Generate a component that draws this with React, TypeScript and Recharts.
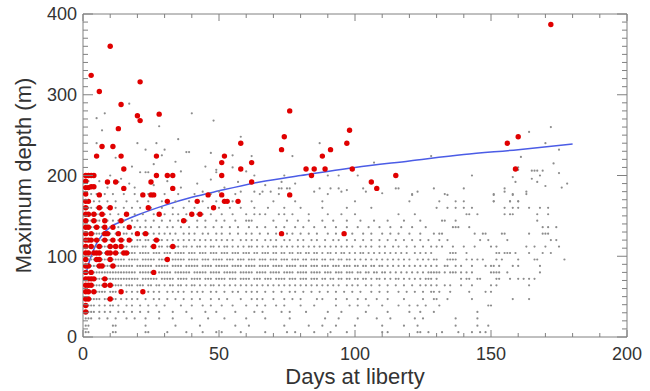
import React from 'react';
import { ComposedChart, Scatter, Line, XAxis, YAxis, ReferenceLine } from 'recharts';

// gray points: one row of recorded days per depth level
const rowDepths = [6, 14, 23, 31, 39, 47, 56, 64, 72, 80, 88, 96, 104, 112, 120, 128, 136, 144, 152, 160, 168, 177];
const rowDays = [
  [1, 2, 11, 12, 23, 24, 31, 38, 44, 49, 51, 58, 67, 75, 78, 85, 91, 97, 110, 112, 123, 124, 127, 132, 138, 143, 146, 148],
  [1, 2, 11, 12, 23, 34, 43, 56, 61, 74, 83, 88, 93, 100, 110, 118, 123, 137, 145, 149],
  [1, 2, 3, 6, 9, 12, 16, 19, 23, 28, 33, 40, 46, 52, 60, 67, 76, 89, 94, 101, 108, 113, 122, 125, 137, 145],
  [1, 2, 3, 4, 6, 8, 10, 13, 15, 18, 21, 24, 28, 33, 38, 45, 49, 56, 63, 66, 73, 76, 82, 90, 95, 104, 112, 120, 124, 129, 145],
  [1, 2, 3, 4, 6, 8, 10, 11, 13, 16, 18, 21, 24, 27, 30, 36, 40, 44, 47, 51, 55, 60, 64, 67, 71, 74, 80, 85, 93, 98, 101, 105, 110, 116, 120, 123, 126, 131, 149, 150],
  [1, 2, 3, 4, 5, 6, 8, 9, 11, 12, 14, 16, 18, 20, 23, 26, 28, 31, 34, 37, 40, 43, 47, 50, 53, 58, 62, 64, 66, 70, 74, 77, 80, 86, 88, 93, 97, 101, 104, 108, 112, 118, 125, 129, 130, 134, 143, 158, 164],
  [1, 2, 3, 4, 5, 6, 7, 8, 10, 11, 12, 14, 16, 18, 20, 22, 24, 26, 28, 31, 33, 35, 37, 40, 42, 44, 47, 49, 52, 55, 57, 60, 62, 64, 67, 70, 73, 76, 78, 81, 84, 87, 90, 93, 96, 99, 102, 106, 109, 112, 116, 119, 122, 125, 128, 129, 131, 135, 142, 148, 150],
  [1, 2, 3, 4, 5, 6, 7, 8, 9, 10, 11, 12, 13, 14, 16, 17, 18, 20, 21, 22, 24, 25, 27, 28, 30, 32, 33, 35, 36, 38, 40, 41, 43, 45, 47, 48, 50, 52, 54, 56, 58, 60, 62, 64, 66, 68, 70, 72, 74, 76, 78, 80, 82, 84, 86, 88, 90, 92, 94, 97, 99, 101, 104, 106, 109, 112, 115, 118, 121, 124, 126, 128, 130, 133, 135, 139, 143, 150, 152, 164],
  [1, 2, 3, 4, 5, 6, 7, 8, 9, 10, 11, 12, 13, 14, 15, 16, 17, 18, 19, 20, 22, 23, 24, 25, 26, 27, 29, 30, 31, 32, 33, 35, 36, 37, 38, 40, 41, 42, 43, 45, 46, 47, 49, 50, 51, 52, 54, 55, 56, 58, 59, 60, 61, 63, 64, 65, 67, 68, 69, 71, 72, 73, 74, 76, 77, 78, 80, 81, 82, 84, 85, 86, 88, 89, 91, 92, 94, 95, 97, 98, 100, 101, 103, 104, 106, 108, 109, 111, 113, 115, 116, 118, 120, 122, 124, 126, 127, 128, 130, 139, 141, 142, 145, 146, 152, 153, 157, 160, 162, 164, 166],
  [1, 2, 3, 4, 5, 6, 7, 8, 9, 10, 11, 12, 13, 14, 15, 16, 17, 18, 19, 21, 22, 23, 24, 25, 26, 28, 29, 30, 31, 32, 34, 35, 36, 37, 38, 39, 41, 42, 43, 44, 45, 47, 48, 49, 50, 52, 53, 54, 55, 56, 58, 59, 60, 61, 62, 64, 65, 66, 67, 69, 70, 71, 72, 74, 75, 76, 77, 79, 80, 81, 82, 84, 85, 86, 87, 89, 90, 91, 93, 94, 95, 97, 98, 99, 101, 102, 104, 105, 107, 108, 110, 111, 113, 115, 117, 119, 121, 123, 125, 127, 128, 129, 130, 131, 133, 135, 136, 137, 139, 141, 143, 150, 151, 152, 153, 156, 168],
  [1, 2, 3, 4, 5, 6, 7, 8, 9, 10, 11, 12, 13, 14, 15, 16, 17, 18, 20, 21, 22, 23, 24, 25, 27, 28, 29, 30, 31, 33, 34, 35, 36, 38, 39, 40, 41, 42, 44, 45, 46, 47, 49, 50, 51, 52, 53, 55, 56, 57, 58, 60, 61, 62, 63, 65, 66, 67, 68, 70, 71, 72, 73, 75, 76, 77, 78, 80, 81, 82, 84, 85, 86, 88, 89, 90, 92, 93, 94, 96, 97, 98, 100, 101, 103, 104, 106, 107, 109, 110, 112, 114, 116, 118, 120, 122, 124, 126, 128, 130, 133, 134, 137, 139, 143, 148, 150, 151, 153, 158, 160, 168],
  [1, 2, 3, 4, 5, 6, 7, 8, 9, 10, 11, 12, 13, 14, 15, 17, 18, 19, 20, 22, 23, 24, 25, 26, 28, 29, 30, 31, 33, 34, 35, 36, 37, 39, 40, 41, 42, 44, 45, 46, 48, 49, 50, 51, 53, 54, 55, 57, 58, 59, 61, 62, 63, 65, 66, 67, 69, 70, 71, 73, 74, 75, 77, 78, 79, 81, 82, 84, 85, 86, 88, 89, 91, 92, 94, 95, 97, 98, 100, 102, 104, 106, 108, 110, 112, 114, 116, 118, 120, 123, 125, 127, 129, 130, 134, 135, 136, 137, 141, 143, 145, 147, 152, 154, 160, 166, 167, 177],
  [1, 2, 3, 4, 5, 6, 7, 8, 9, 10, 11, 12, 13, 14, 16, 17, 18, 19, 21, 22, 23, 24, 26, 27, 28, 30, 31, 32, 34, 35, 36, 37, 39, 40, 41, 43, 44, 45, 47, 48, 49, 51, 52, 53, 55, 56, 57, 59, 60, 61, 63, 64, 66, 67, 68, 70, 71, 73, 74, 76, 77, 79, 80, 82, 83, 85, 86, 88, 90, 91, 93, 95, 96, 98, 100, 102, 103, 105, 107, 109, 111, 113, 115, 117, 119, 122, 124, 126, 128, 135, 136, 137, 141, 152, 153, 155, 156, 157, 159, 164, 169, 172],
  [1, 2, 3, 4, 5, 6, 7, 8, 9, 10, 11, 12, 14, 15, 16, 18, 19, 20, 22, 23, 25, 26, 28, 29, 31, 32, 34, 35, 37, 38, 40, 42, 43, 45, 47, 48, 50, 52, 53, 55, 57, 59, 61, 62, 64, 66, 68, 70, 71, 73, 75, 77, 79, 81, 83, 85, 87, 89, 91, 93, 95, 97, 99, 102, 104, 106, 109, 111, 114, 116, 119, 122, 125, 128, 130, 132, 136, 140, 144, 150, 152, 163, 166, 170, 175],
  [1, 2, 3, 4, 5, 6, 7, 8, 9, 10, 11, 13, 14, 15, 17, 18, 20, 21, 23, 24, 26, 28, 29, 31, 33, 35, 37, 39, 41, 43, 45, 47, 49, 51, 53, 55, 58, 60, 62, 64, 67, 69, 71, 74, 76, 79, 81, 84, 86, 89, 92, 94, 97, 100, 103, 106, 109, 112, 115, 118, 121, 124, 127, 131, 134, 146, 149, 156, 172, 174],
  [1, 2, 3, 4, 5, 6, 7, 8, 9, 10, 12, 13, 15, 16, 18, 20, 22, 24, 26, 28, 30, 32, 34, 37, 39, 41, 44, 46, 49, 51, 54, 57, 60, 62, 65, 68, 71, 75, 77, 80, 83, 86, 90, 93, 96, 99, 103, 106, 110, 113, 116, 120, 124, 129, 131, 132, 144, 147, 148, 154, 155, 164, 169, 170, 171],
  [1, 2, 3, 4, 5, 6, 7, 8, 10, 11, 13, 15, 17, 19, 21, 23, 25, 28, 31, 33, 36, 39, 42, 45, 48, 51, 54, 57, 61, 64, 67, 71, 74, 78, 81, 85, 89, 93, 97, 101, 105, 109, 113, 117, 121, 126, 136, 137, 138, 142, 169, 171, 174],
  [1, 2, 3, 4, 5, 6, 8, 9, 11, 13, 15, 18, 20, 23, 26, 29, 32, 35, 38, 42, 45, 49, 52, 56, 60, 61, 62, 70, 75, 79, 83, 88, 92, 97, 102, 107, 112, 118, 124, 132, 133, 137, 167],
  [1, 2, 3, 5, 6, 8, 10, 13, 16, 19, 22, 26, 30, 33, 35, 38, 42, 44, 47, 51, 55, 60, 63, 65, 67, 72, 74, 77, 83, 90, 95, 100, 116, 122, 141, 142, 145, 155, 157, 158, 167, 171],
  [1, 2, 3, 5, 7, 9, 12, 15, 18, 21, 25, 29, 33, 37, 41, 46, 50, 54, 58, 63, 68, 74, 80, 88, 97, 106, 130, 134, 137, 140, 143, 155, 158, 160, 164, 168, 171],
  [1, 2, 4, 6, 9, 12, 16, 20, 24, 29, 34, 39, 44, 49, 55, 62, 70, 78, 88, 100, 120, 131, 137, 140, 151, 157, 160],
  [1, 3, 5, 8, 11, 15, 19, 24, 30, 35, 41, 47, 56, 65, 72, 90, 121, 133, 151, 158, 163],
];

// scattered gray points above the row band: [day, depth]
const grayUpper = [
  [4, 185], [9, 185], [13, 192], [17, 190], [21, 204], [23, 204], [24, 204], [18, 211], [34, 217], [45, 211], [49, 204], [49, 207],
  [23, 232], [29, 225], [30, 232], [38, 229], [39, 229], [47, 228], [55, 225], [62, 224], [27, 240], [5, 240], [28, 261], [7, 256],
  [48, 268], [40, 277], [8, 277], [17, 289], [5, 271], [72, 184], [73, 184], [75, 184], [76, 184], [73, 192], [74, 200], [78, 190],
  [87, 184], [91, 184], [94, 184], [97, 182], [103, 184], [115, 184], [116, 184], [129, 184], [90, 200], [94, 200], [101, 200],
  [77, 224], [87, 240], [107, 216], [128, 224], [121, 176], [140, 184], [134, 176], [151, 168], [151, 176], [155, 180], [155, 184],
  [158, 176], [163, 180], [157, 168], [160, 168], [143, 200], [158, 198], [159, 192], [165, 196], [168, 200], [175, 203], [176, 185],
  [178, 190], [167, 192], [170, 187], [160, 207], [160, 210], [165, 206], [166, 206], [167, 206], [169, 206], [161, 223], [173, 215],
  [164, 254], [172, 260], [170, 240], [175, 232], [2, 193], [6, 193], [10, 200], [14, 196], [19, 185], [26, 188], [31, 193], [36, 185],
  [42, 190], [47, 195], [52, 185], [57, 192], [63, 200], [67, 188], [26, 214], [36, 205], [55, 210], [60, 205], [58, 180], [63, 180],
  [66, 180], [69, 180], [44, 180], [50, 180], [12, 222], [20, 240], [35, 245], [58, 248], [85, 180], [95, 180], [104, 180], [110, 178],
  [123, 180],
];

// red points: [day, depth]
const redPoints = [
  [10, 360], [3, 324], [6, 304], [21, 316], [14, 288], [20, 274], [21, 268], [28, 276], [13, 258], [7, 236], [11, 236], [5, 224],
  [14, 224], [27, 224], [15, 208], [3, 200], [4, 200], [9, 192], [12, 192], [25, 192], [27, 200], [31, 200], [33, 200], [33, 184],
  [15, 184], [3, 186], [4, 186], [6, 176], [22, 176], [25, 176], [26, 176], [46, 176], [76, 280], [74, 248], [73, 232],
  [98, 256], [97, 240], [91, 232], [88, 224], [58, 240], [52, 224], [51, 216], [62, 216], [58, 208], [51, 200], [82, 208], [85, 208],
  [89, 208], [84, 200], [99, 208], [62, 192], [76, 176], [115, 200], [106, 192], [108, 184], [51, 176], [57, 168], [156, 240],
  [160, 248], [159, 208], [172, 387], [42, 168], [52, 168], [53, 168], [31, 168], [48, 160], [24, 160], [10, 160], [6, 160],
  [28, 152], [4, 152], [7, 152], [16, 152], [40, 152], [43, 152], [4, 144], [8, 144], [14, 144], [37, 144], [5, 136], [8, 136],
  [11, 136], [17, 136], [3, 128], [8, 128], [9, 128], [13, 128], [20, 128], [23, 128], [73, 128], [96, 128], [3, 120], [5, 120],
  [8, 120], [11, 120], [14, 120], [17, 120], [27, 120], [3, 112], [6, 112], [10, 112], [12, 112], [14, 112], [26, 112], [33, 112],
  [4, 104], [5, 104], [6, 104], [9, 104], [10, 104], [12, 104], [15, 104], [16, 104], [5, 96], [6, 96], [10, 96], [31, 96],
  [6, 88], [7, 88], [11, 88], [3, 80], [26, 80], [3, 72], [4, 72], [8, 72], [3, 64], [8, 64], [10, 64], [4, 56], [14, 56], [22, 56],
  [10, 47], [1, 31], [1, 39], [1, 47], [1, 56], [1, 64], [1, 72], [1, 80], [1, 88], [1, 96], [1, 104], [1, 112], [1, 120], [1, 128],
  [1, 136], [1, 144], [1, 152], [1, 160], [1, 168], [1, 177], [1, 185], [1, 193], [1, 200], [2, 47], [2, 56], [2, 64], [2, 72],
  [2, 88], [2, 104], [2, 120], [2, 136], [2, 152], [2, 168], [2, 185], [2, 200],
];

// fitted curve
const fitDays = [1, 2, 3, 5, 7, 10, 15, 20, 30, 40, 50, 65, 80, 100, 120, 140, 160, 180];
const fitDepths = [77, 90, 100, 116, 126, 136, 144, 151, 163, 173, 181, 192, 200, 210, 218, 226, 232, 239];

const xTicks = [0, 10, 20, 30, 40, 50, 60, 70, 80, 90, 100, 110, 120, 130, 140, 150, 160, 170, 180, 190, 200];
const yTicks = [0, 10, 20, 30, 40, 50, 60, 70, 80, 90, 100, 110, 120, 130, 140, 150, 160, 170, 180, 190, 200,
  210, 220, 230, 240, 250, 260, 270, 280, 290, 300, 310, 320, 330, 340, 350, 360, 370, 380, 390, 400];

const grayData = rowDepths
  .flatMap((depth, i) => rowDays[i].map((day) => ({ day, depth })))
  .concat(grayUpper.map(([day, depth]) => ({ day, depth })));
const redData = redPoints.map(([day, depth]) => ({ day, depth }));
const fitData = fitDays.map((day, i) => ({ day, depth: fitDepths[i] }));

const TOP = 14;
const BOTTOM = 337;
const LEFT = 83;
const RIGHT = 627;
const FRAME = '#808080';
const TEXT = '#333';
const FONT = '"Liberation Sans", Arial, sans-serif';

const XTick = (props: any) => {
  const { x, payload } = props;
  const major = payload.value % 50 === 0;
  const len = major ? 7 : 4;
  return (
    <g>
      <line x1={x} x2={x} y1={BOTTOM} y2={BOTTOM - len} stroke={FRAME} />
      <line x1={x} x2={x} y1={TOP} y2={TOP + len} stroke={FRAME} />
      {major && (
        <text x={x} y={BOTTOM + 23} textAnchor="middle" fontSize={18} fill={TEXT} fontFamily={FONT}>
          {payload.value}
        </text>
      )}
    </g>
  );
};

const YTick = (props: any) => {
  const { y, payload } = props;
  const major = payload.value % 100 === 0;
  const len = major ? 10 : 5;
  return (
    <g>
      <line x1={LEFT} x2={LEFT + len} y1={y} y2={y} stroke={FRAME} />
      <line x1={RIGHT} x2={RIGHT - len} y1={y} y2={y} stroke={FRAME} />
      {major && (
        <text x={LEFT - 6} y={y} dy="0.35em" textAnchor="end" fontSize={18} fill={TEXT} fontFamily={FONT}>
          {payload.value}
        </text>
      )}
    </g>
  );
};

const GrayDot = (p: any) => <circle cx={p.cx} cy={p.cy} r={1.1} fill="#8c8c8c" />;
const RedDot = (p: any) => <circle cx={p.cx} cy={p.cy} r={2.7} fill="#e00000" />;

export default function App() {
  return (
    <div style={{ position: 'absolute', left: 0, top: 0, background: '#fff' }}>
      <ComposedChart width={650} height={391} margin={{ top: TOP, right: 650 - RIGHT, bottom: 0, left: 0 }}>
        <XAxis
          type="number"
          dataKey="day"
          domain={[0, 200]}
          ticks={xTicks}
          interval={0}
          height={391 - BOTTOM}
          tickLine={false}
          tickSize={0}
          axisLine={{ stroke: FRAME }}
          tick={(p: any) => <XTick {...p} />}
          label={({ viewBox }: any) => (
            <text x={viewBox.x + viewBox.width / 2} y={BOTTOM + 47} textAnchor="middle" fontSize={22} fill={TEXT} fontFamily={FONT}>
              Days at liberty
            </text>
          )}
        />
        <YAxis
          type="number"
          dataKey="depth"
          domain={[0, 400]}
          ticks={yTicks}
          interval={0}
          width={LEFT}
          tickLine={false}
          tickSize={0}
          axisLine={{ stroke: FRAME }}
          tick={(p: any) => <YTick {...p} />}
          label={() => (
            <text x={31} y={(TOP + BOTTOM) / 2} transform={`rotate(-90, 31, ${(TOP + BOTTOM) / 2})`} textAnchor="middle" fontSize={22} fill={TEXT} fontFamily={FONT}>
              Maximum depth (m)
            </text>
          )}
        />
        <ReferenceLine x={200} stroke={FRAME} />
        <ReferenceLine y={400} stroke={FRAME} />
        <Scatter data={grayData} shape={GrayDot} isAnimationActive={false} />
        <Line data={fitData} dataKey="depth" type="monotone" stroke="#4b5ce6" strokeWidth={1.5} dot={false} activeDot={false} isAnimationActive={false} />
        <Scatter data={redData} shape={RedDot} isAnimationActive={false} />
      </ComposedChart>
    </div>
  );
}
